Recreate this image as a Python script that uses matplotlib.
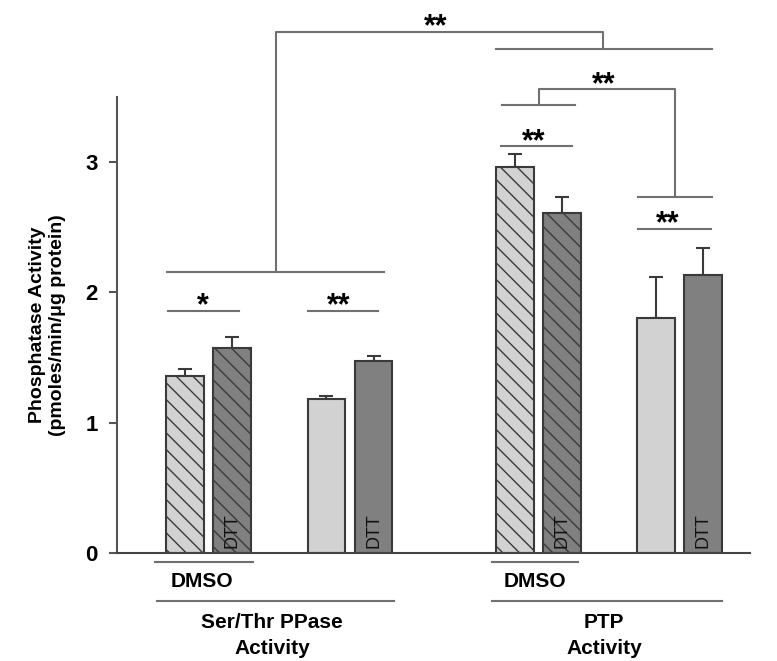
import numpy as np
import matplotlib
matplotlib.use('Agg')
import matplotlib.pyplot as plt

plt.rcParams['font.family'] = ['Liberation Sans', 'DejaVu Sans']
plt.rcParams['hatch.linewidth'] = 1.0
plt.rcParams['hatch.color'] = '#333333'

# bar data: Ser/Thr (DMSO, DMSO+DTT, ctrl, DTT), PTP (same)
positions = [0, 1, 3, 4, 7, 8, 10, 11]
means = [1.36, 1.57, 1.18, 1.47, 2.96, 2.61, 1.80, 2.13]
errors = [0.05, 0.085, 0.025, 0.04, 0.10, 0.12, 0.32, 0.21]
colors = ['#d2d2d2', '#808080', '#d2d2d2', '#808080',
          '#d2d2d2', '#808080', '#d2d2d2', '#808080']
hatches = ['\\\\', '\\\\', '', '', '\\\\', '\\\\', '', '']
dtt_bars = [1, 3, 5, 7]
yticks = [0, 1, 2, 3]

# significance brackets: (x0, x1, y, label, label_x)
sig_lines = [
    (-0.37, 1.15, 1.86, '*', 0.37),
    (2.60, 4.10, 1.86, '**', 3.27),
    (6.71, 8.21, 3.12, '**', 7.40),
    (9.61, 11.18, 2.49, '**', 10.26),
]
group_lines = [(-0.39, 4.23, 2.16), (6.73, 8.29, 3.44),
               (9.63, 11.20, 2.73), (6.60, 11.20, 3.87)]
# elbow connectors: (xl, yl, xr, yr, ytop, label, label_x)
connectors = [
    (7.51, 3.44, 10.41, 2.73, 3.56, '**', 8.89),
    (1.92, 2.16, 8.87, 3.87, 4.00, '**', 5.33),
]

fig = plt.figure(figsize=(7.77, 6.61), dpi=100)
ax = fig.add_axes([0.1506, 0.1634, 0.8147, 0.690])

ax.bar(positions, means, width=0.805, color=colors, edgecolor='#3a3a3a',
       linewidth=1.5, hatch=hatches, zorder=2)
ax.errorbar(positions, means, yerr=[np.zeros(len(errors)), errors], fmt='none',
            ecolor='#3a3a3a', elinewidth=1.5, capsize=5, capthick=1.5, zorder=1)

for i in dtt_bars:
    ax.text(positions[i], 0.04, 'DTT', rotation=90, ha='center', va='bottom',
            fontsize=13, color='#111111', zorder=3)

lc = '#707070'


def stars(x, y, lab):
    ax.text(x, y - 0.03, lab, ha='center', va='baseline', fontsize=22,
            fontweight='bold', clip_on=False)


for x0, x1, y, lab, lx in sig_lines:
    ax.plot([x0, x1], [y, y], color=lc, lw=1.5, clip_on=False)
    stars(lx, y, lab)
for x0, x1, y in group_lines:
    ax.plot([x0, x1], [y, y], color=lc, lw=1.5, clip_on=False)
for xl, yl, xr, yr, yt, lab, lx in connectors:
    ax.plot([xl, xl, xr, xr], [yl, yt, yt, yr], color=lc, lw=1.5, clip_on=False)
    stars(lx, yt, lab)

# category annotations below the axis
for x0, x1, tx in [(-0.65, 1.43, 0.35), (6.51, 8.34, 7.43)]:
    ax.plot([x0, x1], [-0.07, -0.07], color=lc, lw=1.5, clip_on=False)
    ax.text(tx, -0.215, 'DMSO', ha='center', va='center', fontsize=15,
            fontweight='bold')
for x0, x1, tx, lab in [(-0.60, 4.44, 1.85, 'Ser/Thr PPase'), (6.51, 11.40, 8.90, 'PTP')]:
    ax.plot([x0, x1], [-0.37, -0.37], color=lc, lw=1.5, clip_on=False)
    ax.text(tx, -0.53, lab, ha='center', va='center', fontsize=15, fontweight='bold')
    ax.text(tx, -0.73, 'Activity', ha='center', va='center', fontsize=15,
            fontweight='bold')

ax.set_xlim(-1.45, 12.0)
ax.set_ylim(0, 3.5)
ax.set_yticks(yticks)
ax.set_yticklabels([str(t) for t in yticks], fontsize=16, fontweight='bold')
ax.set_xticks([])
ax.tick_params(axis='y', direction='out', length=6, width=1.5, color='#555555', pad=8)
for s in ['top', 'right']:
    ax.spines[s].set_visible(False)
ax.spines['left'].set_color('#555555')
ax.spines['left'].set_linewidth(1.5)
ax.spines['bottom'].set_color('#444444')
ax.spines['bottom'].set_linewidth(1.5)
ax.set_ylabel('Phosphatase Activity\n(pmoles/min/\u03bcg protein)', fontsize=14,
              fontweight='bold', labelpad=14)

fig.savefig('out.png', dpi=100)
